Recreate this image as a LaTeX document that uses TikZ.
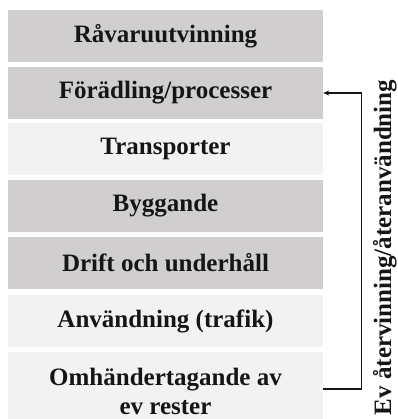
\documentclass[tikz,border=0pt]{standalone}
\usepackage{fontspec}
\setmainfont{Liberation Serif}
\usetikzlibrary{arrows.meta}
\definecolor{boxdark}{HTML}{D0CECF}
\definecolor{boxlight}{HTML}{F2F2F2}
\definecolor{ink}{HTML}{151515}
\begin{document}
\begin{tikzpicture}[x=1pt,y=-1pt,
  stage/.style={rectangle, minimum width=315pt, minimum height=52pt, inner sep=0pt,
    font=\fontsize{25}{29}\selectfont\bfseries, text=ink, align=center},
  dark/.style={stage, fill=boxdark},
  light/.style={stage, fill=boxlight},
  flow/.style={draw=ink, line width=1.5pt, -{Stealth[length=6pt,width=5pt]}},
  sidelabel/.style={rotate=90, anchor=base, inner sep=0pt,
    font=\fontsize{25}{29}\selectfont\bfseries, text=ink}]
\useasboundingbox (0,0) rectangle (397,419);
\node[dark]  (b1) at (165.5,36)  {Råvaruutvinning};
\node[dark]  (b2) at (165.5,93)  {Förädling/processer};
\node[light] (b3) at (165.5,149) {Transporter};
\node[dark]  (b4) at (165.5,206) {Byggande};
\node[dark]  (b5) at (165.5,263) {Drift och underhåll};
\node[light] (b6) at (165.5,321) {Användning (trafik)};
\node[light, minimum height=78pt] (b7) at (165.5,391) {Omhändertagande av\\ev rester};
\coordinate (turn) at (361.5,389);
\draw[flow] (b7.east |- turn) -- (turn) |- (b2.east);
\node[sidelabel] (rt) at (391,247.5) {Ev återvinning/återanvändning};
\end{tikzpicture}
\end{document}
